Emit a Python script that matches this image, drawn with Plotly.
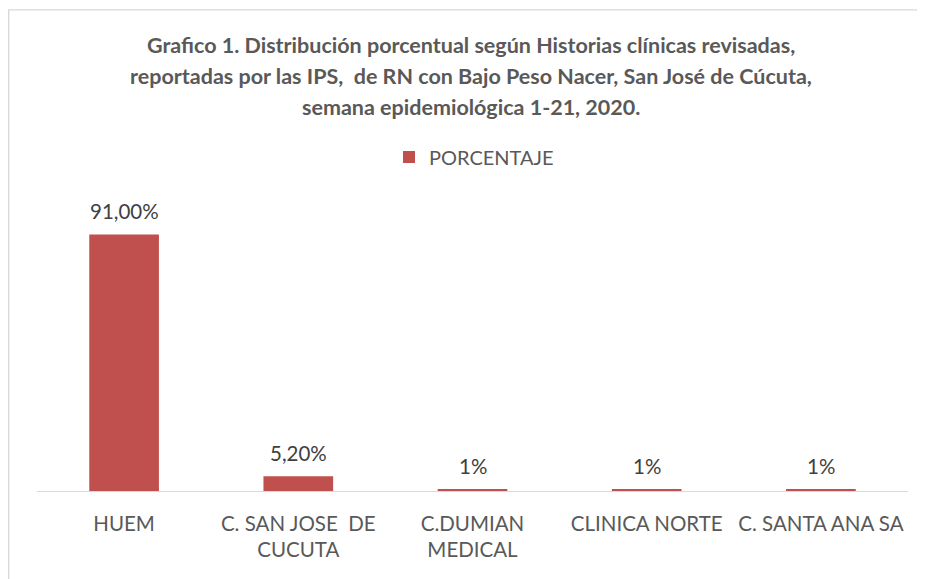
import plotly.graph_objects as go

categories = ["HUEM", "C. SAN JOSE  DE<br>CUCUTA", "C.DUMIAN<br>MEDICAL", "CLINICA NORTE", "C. SANTA ANA SA"]
values = [91.0, 5.2, 0.6, 0.6, 0.6]
labels = ["91,00%", "5,20%", "1%", "1%", "1%"]
series_name = "PORCENTAJE"
title_lines = [
    "Grafico 1. Distribución porcentual según Historias clínicas revisadas,",
    "reportadas por las IPS,  de RN con Bajo Peso Nacer, San José de Cúcuta,",
    "semana epidemiológica 1-21, 2020.",
]

# the page adds an 8px body margin, so the figure is sized to fit the window
W, H = 917, 571
L, R = 29, 17
B = 87.5
T = 200.5
plot_w = W - L - R
plot_h = H - T - B
BAR = "#C0504D"
FONT = "Lato"
TXT = "#595959"

fig = go.Figure()
fig.add_trace(go.Bar(
    x=categories, y=values, name=series_name,
    marker=dict(color=BAR, line=dict(width=0)),
    showlegend=True,
))

# data labels
for c, v, t in zip(categories, values, labels):
    fig.add_annotation(x=c, y=v, text=t, showarrow=False, xref="x", yref="y",
                       yanchor="bottom", yshift=9,
                       font=dict(family=FONT, size=20.5, color="#404040"))

# title lines (figure px y centres)
title_y = [36, 67, 98]
for line, py in zip(title_lines, title_y):
    fig.add_annotation(x=(463 - L) / plot_w, y=(H - B - py) / plot_h, xref="paper", yref="paper",
                       text="<b>%s</b>" % line, showarrow=False, yanchor="middle",
                       font=dict(family=FONT, size=21.5, color=TXT))

# chart frame (light gray)
fig.add_shape(type="rect", xref="paper", yref="paper",
              x0=(0.7 - L) / plot_w, x1=(960 - L) / plot_w,
              y0=(H - B - 640) / plot_h, y1=(H - B - 0.7) / plot_h,
              line=dict(color="#D9D9D9", width=1.4), fillcolor="rgba(0,0,0,0)", layer="below")

fig.update_layout(
    width=W, height=H,
    margin=dict(l=L, r=R, t=T, b=B),
    paper_bgcolor="white", plot_bgcolor="white",
    bargap=0.6,
    font=dict(family=FONT, color=TXT),
    legend=dict(orientation="h", x=381 / W, xanchor="left", y=1 - 149 / H, yanchor="middle",
                xref="container", yref="container",
                font=dict(family=FONT, size=20, color=TXT), itemwidth=30),
    xaxis=dict(showline=True, linecolor="#D9D9D9", linewidth=1.3, ticks="",
               showgrid=False, tickfont=dict(family=FONT, size=20.5, color=TXT),
               ticklabelstandoff=14, fixedrange=True),
    yaxis=dict(range=[0, 100], visible=False, showgrid=False, zeroline=False),
)

fig.write_html("out.html")
